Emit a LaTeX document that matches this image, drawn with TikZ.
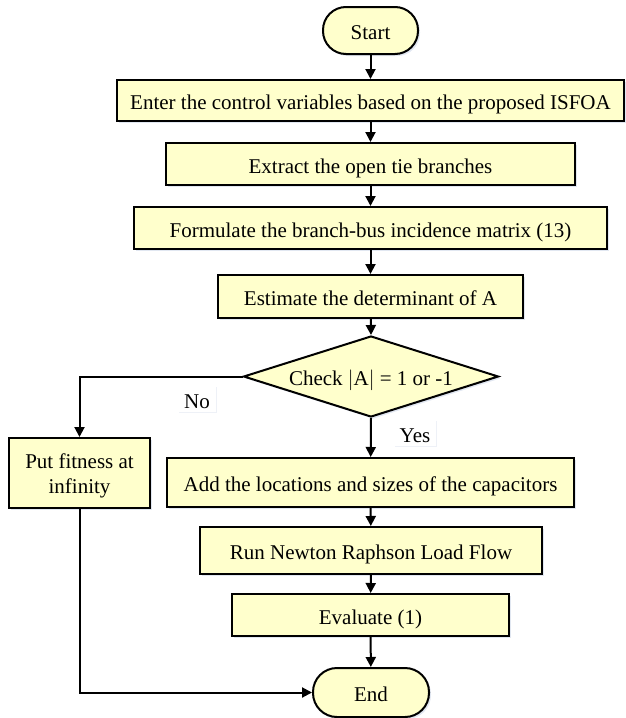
\documentclass[tikz,border=0pt]{standalone}
\usepackage{fontspec}
\setmainfont{Liberation Serif}
\usetikzlibrary{arrows.meta,shapes.geometric,shadows}

\definecolor{boxfill}{RGB}{255,255,204}
\definecolor{shade}{RGB}{170,185,215}

\tikzset{
  x=1pt, y=-1pt,
  every node/.style={font=\fontsize{21}{25}\selectfont, inner sep=0pt},
  oneline/.style={text height=21pt, text depth=3pt},
  softshadow/.style={drop shadow={shadow xshift=2pt, shadow yshift=-2pt, opacity=0.35, fill=shade}},
  procbox/.style={draw, line width=2pt, fill=boxfill, rectangle, softshadow, oneline},
  termbox/.style={draw, line width=2pt, fill=boxfill, rectangle, rounded corners=23pt, softshadow, oneline},
  decbox/.style={draw, line width=2pt, fill=boxfill, diamond, aspect=3.15, softshadow},
  tag/.style={fill=white, inner xsep=6pt, inner ysep=1pt, oneline, drop shadow={shadow xshift=1pt, shadow yshift=-1pt, opacity=0.2, fill=shade}},
  flow/.style={line width=2pt, -{Triangle[length=10pt,width=10pt]}},
}

\begin{document}
\begin{tikzpicture}
\useasboundingbox (0,0) rectangle (625,718);

\node[termbox, minimum width=95pt, minimum height=47pt] (start) at (370.5,30.5) {Start};
\node[procbox, minimum width=507pt, minimum height=41pt] (enter) at (370.5,100.5) {Enter the control variables based on the proposed ISFOA};
\node[procbox, minimum width=409pt, minimum height=42pt] (extract) at (370.5,164) {Extract the open tie branches};
\node[procbox, minimum width=473pt, minimum height=42pt] (form) at (370.5,228) {Formulate the branch-bus incidence matrix (13)};
\node[procbox, minimum width=305pt, minimum height=43pt] (est) at (370.5,296.5) {Estimate the determinant of A};
\node[decbox, minimum width=255pt, minimum height=81pt] (check) at (371,376.5) {};
\node[oneline] (checktext) at (check.center) {Check $|$A$|$ = 1 or -1};
\node[procbox, minimum width=407pt, minimum height=49pt] (add) at (370.5,482.5) {Add the locations and sizes of the capacitors};
\node[procbox, minimum width=342pt, minimum height=47pt] (run) at (371,550.5) {Run Newton Raphson Load Flow};
\node[procbox, minimum width=277pt, minimum height=42pt] (eval) at (370.5,615) {Evaluate (1)};
\node[termbox, minimum width=116pt, minimum height=49pt, rounded corners=24pt] (stop) at (371,692.5) {End};
\node[draw, line width=2pt, fill=boxfill, softshadow, minimum width=141pt, minimum height=70pt] (fit) at (79.5,473) {};
\node[align=center, yshift=-2.5pt] (fittext) at (fit.center) {Put fitness at\\infinity};

\node[tag] (no) at (197,399) {No};
\node[tag] (yes) at (415,433) {Yes};

\draw[flow] (start) -- (enter);
\draw[flow] (enter) -- (extract);
\draw[flow] (extract) -- (form);
\draw[flow] (form) -- (est);
\draw[flow] (est) -- (check.north);
\draw[flow] (check.south) -- (add);
\draw[flow] (add) -- (run);
\draw[flow] (run) -- (eval);
\draw[flow] (eval) -- (stop);
\draw[flow] (check.west) -| (fit.north);
\draw[flow] (fit.south) |- (stop.west);
\end{tikzpicture}
\end{document}
